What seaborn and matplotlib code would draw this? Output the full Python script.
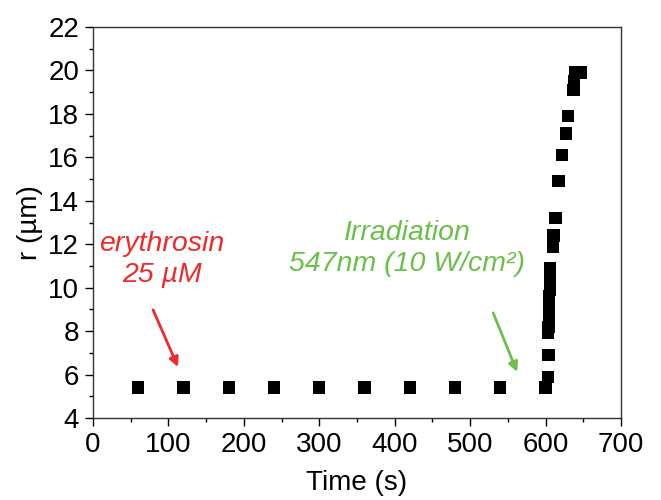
import matplotlib
matplotlib.use("Agg")
import matplotlib.pyplot as plt
from matplotlib.ticker import MultipleLocator
import seaborn as sns
import pandas as pd

# Data
time_s = [60, 120, 180, 240, 300, 360, 420, 480, 540, 600,
          603, 604,
          603.5, 604, 604.5, 604.5, 605, 605, 605.5, 605.5, 606, 606,
          610, 610.5, 613, 617, 622, 627, 630, 637, 638, 639, 647]
radius_um = [5.4, 5.4, 5.4, 5.4, 5.4, 5.4, 5.4, 5.4, 5.4, 5.4,
             5.9, 6.9,
             7.9, 8.2, 8.6, 8.9, 9.25, 9.6, 9.9, 10.2, 10.55, 10.9,
             11.9, 12.4, 13.2, 14.9, 16.1, 17.1, 17.9, 19.1, 19.5, 19.9, 19.9]
x_ticks = [0, 100, 200, 300, 400, 500, 600, 700]
y_ticks = [4, 6, 8, 10, 12, 14, 16, 18, 20, 22]

sns.set_style("ticks")
plt.rcParams['font.family'] = ['Liberation Sans', 'DejaVu Sans']
plt.rcParams['text.color'] = 'black'
plt.rcParams['axes.labelcolor'] = 'black'
plt.rcParams['xtick.color'] = 'black'
plt.rcParams['ytick.color'] = 'black'

df = pd.DataFrame({"t": time_s, "r": radius_um})

fig = plt.figure(figsize=(6.61, 5.0), dpi=100)
ax = fig.add_axes([0.1407, 0.164, 0.9395 - 0.1407, 0.946 - 0.164])

sns.scatterplot(data=df, x="t", y="r", marker="s", s=78, color="black",
                edgecolor="none", linewidth=0, ax=ax, legend=False)

ax.set_xlim(0, 700)
ax.set_ylim(4, 22)
ax.set_xticks(x_ticks)
ax.set_yticks(y_ticks)
ax.xaxis.set_minor_locator(MultipleLocator(50))
ax.yaxis.set_minor_locator(MultipleLocator(1))
ax.tick_params(which="major", direction="out", length=6, width=1, labelsize=20,
               pad=4, top=False, right=False, colors="black")
ax.tick_params(which="minor", direction="out", length=3, width=1,
               top=False, right=False, colors="black")
for sp in ax.spines.values():
    sp.set_visible(True)
    sp.set_linewidth(1.0)
    sp.set_color("#333333")

ax.set_xlabel("Time (s)", fontsize=20, labelpad=9, color="black")
ax.set_ylabel("r (µm)", fontsize=20, labelpad=4, color="black")

red = "#ee2a2a"
green = "#6cbf4a"
ax.text(91.5, 11.28, "erythrosin\n25 µM", color=red, fontsize=20.5, style="italic",
        ha="center", va="center", multialignment="center", linespacing=1.25)
ax.annotate("", xy=(112.7, 6.35), xytext=(79.6, 8.98),
            arrowprops=dict(arrowstyle="-|>", color=red, lw=2, mutation_scale=14,
                            shrinkA=0, shrinkB=0))
ax.text(416.4, 11.79, "Irradiation\n547nm (10 W/cm²)", color=green, fontsize=20.5,
        style="italic", ha="center", va="center", multialignment="center",
        linespacing=1.25)
ax.annotate("", xy=(562.3, 6.12), xytext=(530.5, 8.84),
            arrowprops=dict(arrowstyle="-|>", color=green, lw=2, mutation_scale=14,
                            shrinkA=0, shrinkB=0))

fig.savefig("out.png", dpi=100)
